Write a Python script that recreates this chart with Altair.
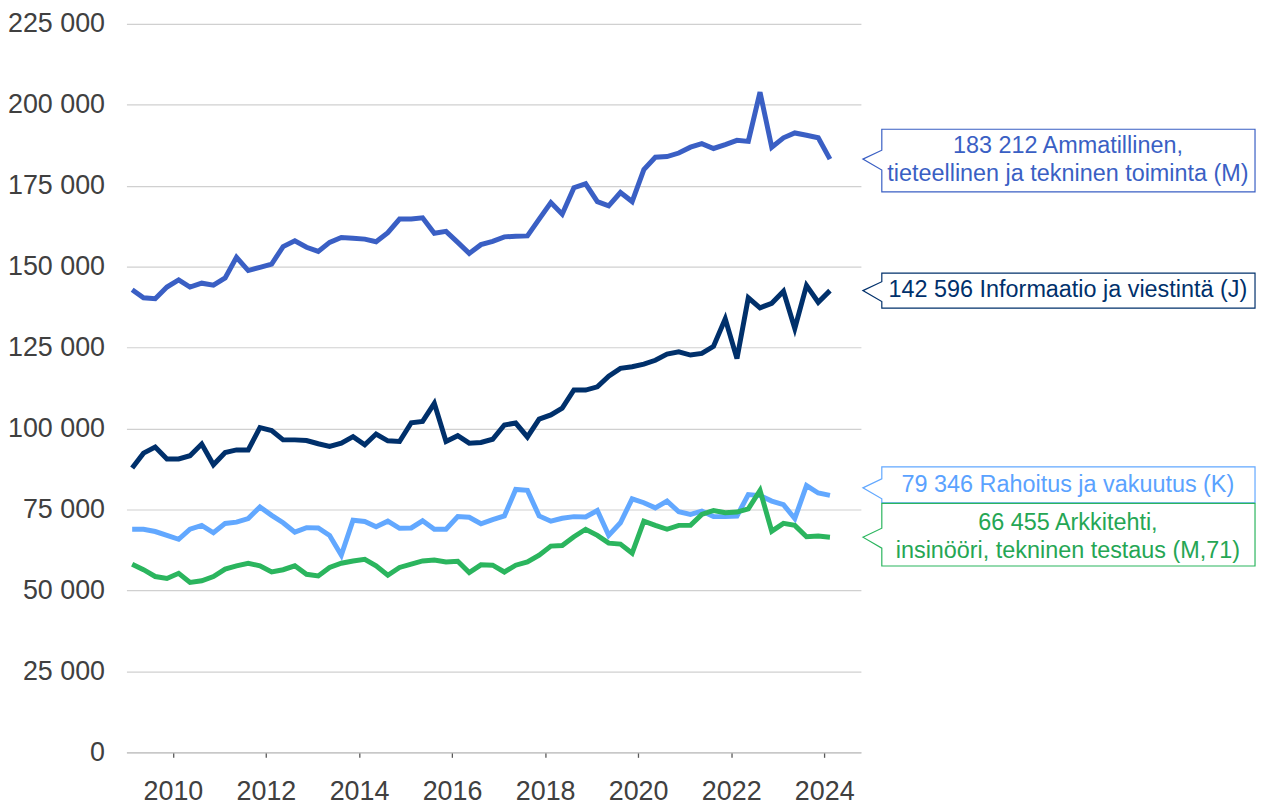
import altair as alt
import pandas as pd

# Quarterly periods 2009Q1 .. 2024Q1 (plotted at mid-quarter)
years_q = [(y, q) for y in range(2009, 2025) for q in (1, 2, 3, 4)][:61]
quarter_dates = [f"{y}-{[2, 5, 8, 11][q - 1]:02d}-15" for y, q in years_q]

ammatillinen = [142900, 140400, 140100, 143700, 145900, 143700, 144900, 144300, 146500, 152900,
                148800, 149800, 150800, 156200, 158000, 156000, 154700, 157500, 159000, 158800,
                158500, 157700, 160500, 164700, 164700, 165100, 160300, 160900, 157500, 154100,
                156800, 157800, 159200, 159400, 159500, 164700, 169800, 166200, 174400, 175600,
                170100, 168800, 172900, 170100, 180000, 183800, 184000, 185100, 186900, 188000,
                186500, 187700, 189000, 188700, 203900, 186900, 189800, 191300, 190600, 189800,
                183212]
informaatio = [87800, 92400, 94300, 90600, 90600, 91600, 95200, 88800, 92600, 93400,
               93400, 100300, 99400, 96500, 96500, 96300, 95300, 94500, 95500, 97500,
               95000, 98300, 96200, 96000, 101800, 102200, 107800, 96000, 97800, 95500,
               95700, 96700, 101100, 101700, 97400, 102900, 104200, 106300, 111900, 111900,
               112900, 116200, 118600, 119100, 119900, 121100, 123000, 123700, 122700, 123200,
               125400, 133900, 121600, 140400, 137300, 138700, 142400, 130900, 144200, 139000,
               142596]
rahoitus = [68900, 68900, 68200, 67000, 65800, 68900, 70100, 67800, 70700, 71100,
            72200, 75800, 73200, 70900, 68000, 69400, 69300, 67000, 60900, 71700,
            71300, 69700, 71400, 69200, 69300, 71500, 68900, 68900, 72800, 72600,
            70600, 71900, 73000, 81200, 80900, 73000, 71400, 72300, 72800, 72700,
            74700, 67000, 70900, 78300, 77100, 75500, 77600, 74300, 73500, 74500,
            72800, 72800, 73000, 79600, 79300, 77600, 76500, 72200, 82400, 80100,
            79346]
arkkitehti = [58100, 56400, 54300, 53700, 55300, 52500, 53000, 54300, 56600, 57600,
              58400, 57600, 55700, 56400, 57600, 55000, 54500, 57100, 58400, 59100,
              59600, 57600, 54700, 57100, 58100, 59100, 59400, 58800, 59000, 55500,
              57900, 57800, 55700, 57800, 58800, 60900, 63700, 63900, 66600, 68900,
              67000, 64600, 64300, 61500, 71400, 70100, 68900, 70100, 70100, 73500,
              74700, 74000, 74200, 75200, 80900, 68300, 70700, 70100, 66600, 66800,
              66455]

series_names = ["Ammatillinen, tieteellinen ja tekninen toiminta (M)",
                "Informaatio ja viestintä (J)",
                "Rahoitus ja vakuutus (K)",
                "Arkkitehti, insinööri, tekninen testaus (M,71)"]
label_texts = ["183 212 Ammatillinen,\ntieteellinen ja tekninen toiminta (M)",
               "142 596 Informaatio ja viestintä (J)",
               "79 346 Rahoitus ja vakuutus (K)",
               "66 455 Arkkitehti,\ninsinööri, tekninen testaus (M,71)"]
year_ticks = [2010, 2012, 2014, 2016, 2018, 2020, 2022, 2024]

colors = ["#3A5FC4", "#00306B", "#62A8FF", "#2BB55E"]
text_colors = ["#3A5FC4", "#00306B", "#5AA2FF", "#25A654"]
all_series = [ammatillinen, informaatio, rahoitus, arkkitehti]

# box geometry relative to pointer tip (top, bottom), pointer y-offset, text dy
box_geom = [(-30, 33, 0, -13), (-17.5, 17.5, 0, -0.5), (-21, 15, -7.6, -10.6), (-34, 29, 0, -14)]

FONT = "Liberation Sans"
x_scale = alt.Scale(domain=[alt.DateTime(year=2009, month=1, date=1),
                            alt.DateTime(year=2024, month=10, date=15)])
y_scale = alt.Scale(domain=[0, 225000])

x_enc = alt.X("date:T", scale=x_scale,
              axis=alt.Axis(values=[alt.DateTime(year=y, month=1, date=1) for y in year_ticks],
                            format="%Y", title=None, grid=False, domain=True,
                            domainColor="#C8C8C8", domainWidth=1.5,
                            ticks=True, tickColor="#595959", tickSize=5, tickWidth=1.3,
                            labelFontSize=27, labelColor="#404040", labelFont=FONT,
                            labelPadding=21, labelFlush=False))
y_enc = alt.Y("value:Q", scale=y_scale,
              axis=alt.Axis(values=list(range(0, 225001, 25000)), title=None,
                            labelExpr="replace(format(datum.value, ','), ',', ' ')",
                            grid=True, gridColor="#D0D0D0", gridWidth=1.2,
                            domain=False, ticks=False, tickSize=0,
                            labelFontSize=27, labelColor="#404040", labelFont=FONT,
                            labelPadding=22))

layers = []
for i, (name, vals) in enumerate(zip(series_names, all_series)):
    df = pd.DataFrame({"date": quarter_dates, "value": vals, "series": name})
    layers.append(alt.Chart(df).mark_line(color=colors[i], strokeWidth=5,
                                          strokeJoin="miter", strokeCap="butt")
                  .encode(x=x_enc, y=y_enc))

TIP_X = 740      # pointer tip, px from plot left
BOX_L, BOX_R = 19, 394
TEXT_X = 946
for i, (name, vals) in enumerate(zip(series_names, all_series)):
    top, bot, yoff, dy = box_geom[i]
    path = (f"M0,0 L{BOX_L},-9 L{BOX_L},{top} L{BOX_R},{top} L{BOX_R},{bot} "
            f"L{BOX_L},{bot} L{BOX_L},11 Z")
    adf = pd.DataFrame({"value": [vals[-1]], "label": [label_texts[i]]})
    box = alt.Chart(adf).mark_point(shape=path, size=4, fill="white", fillOpacity=1,
                                    stroke=colors[i], strokeWidth=1.2, opacity=1,
                                    yOffset=yoff).encode(
        x=alt.value(TIP_X), y=alt.Y("value:Q", scale=y_scale))
    txt = alt.Chart(adf).mark_text(font=FONT, fontSize=23.5, color=text_colors[i],
                                   align="center", baseline="middle", lineBreak="\n",
                                   lineHeight=28, dy=dy).encode(
        x=alt.value(TEXT_X), y=alt.Y("value:Q", scale=y_scale), text="label:N")
    layers.append(box)
    layers.append(txt)

chart = alt.layer(*layers).properties(
    width=738, height=732,
    background="white",
    autosize=alt.AutoSizeParams(type="none"),
    padding={"left": 119, "top": 14, "right": 400, "bottom": 48},
).configure_view(stroke=None)

chart.save("out.html", embed_options={"renderer": "svg", "actions": False})
